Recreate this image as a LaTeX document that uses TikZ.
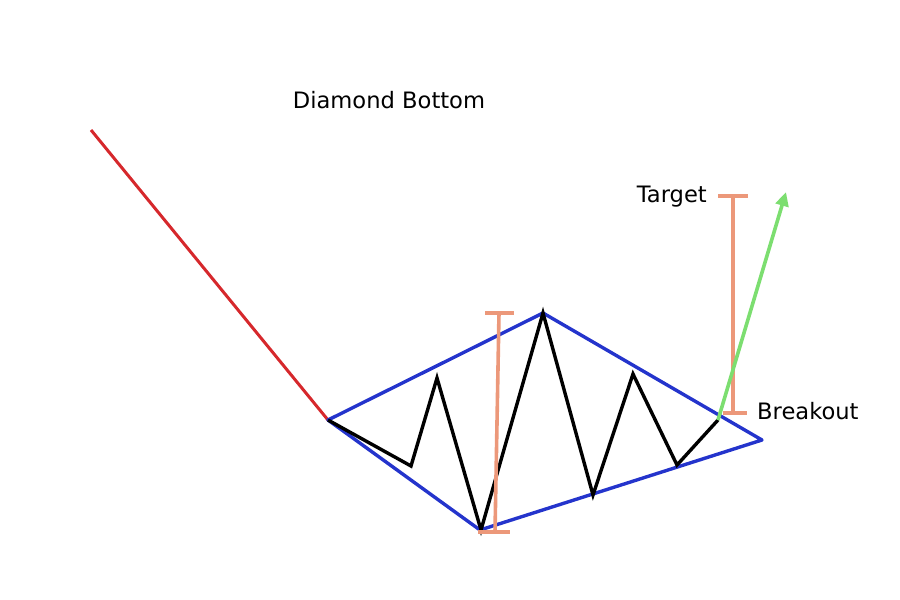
\documentclass[tikz,border=0pt]{standalone}
\usepackage{fontspec}
\setmainfont{DejaVu Sans}
\usetikzlibrary{arrows.meta}
\definecolor{dred}{RGB}{214,40,44}
\definecolor{dblue}{RGB}{36,52,204}
\definecolor{dorange}{RGB}{236,152,122}
\definecolor{dgreen}{RGB}{124,222,112}
\tikzset{
  lbl/.style={font=\fontsize{22.6}{26}\selectfont, inner sep=0pt},
  redline/.style={dred, line width=3pt},
  blueline/.style={dblue, line width=3.4pt, line join=round},
  blackline/.style={black, line width=3.4pt, line join=miter},
  errbar/.style={dorange, line width=3.6pt},
  greenarrow/.style={dgreen, line width=3.6pt, -{Triangle[length=14pt,width=13pt]}}
}
\begin{document}
\begin{tikzpicture}[x=1pt,y=-1pt]
\useasboundingbox (0,0) rectangle (900,600);
% coordinates
\coordinate (start) at (91,130);
\coordinate (L) at (328,420);
\coordinate (T) at (543,313);
\coordinate (R) at (762,440);
\coordinate (B) at (480,530);
\coordinate (z1) at (411,466);
\coordinate (z2) at (437,378);
\coordinate (z3) at (481,530);
\coordinate (z4) at (593,495);
\coordinate (z5) at (633,374);
\coordinate (z6) at (677,465);
\coordinate (brk) at (718,420);
\coordinate (tip) at (786,192);
% red downtrend
\draw[redline] (start) -- (L);
% diamond
\draw[blueline] (L) -- (T) -- (R) -- (B) -- cycle;
% zigzag
\draw[blackline] (L) -- (z1) -- (z2) -- (z3) -- (T) -- (z4) -- (z5) -- (z6) -- (brk);
% left error bar
\coordinate (e1t) at (499,313);
\coordinate (e1b) at (495,532);
\draw[errbar] (e1t) -- (e1b);
\draw[errbar] ([xshift=-14pt]e1t) -- ([xshift=15pt]e1t);
\draw[errbar] ([xshift=-17pt]e1b) -- ([xshift=15pt]e1b);
% right error bar
\coordinate (e2t) at (733,196);
\coordinate (e2b) at (733,413);
\draw[errbar] (e2t) -- (e2b);
\draw[errbar] ([xshift=-15pt]e2t) -- ([xshift=15pt]e2t);
\draw[errbar] ([xshift=-10pt]e2b) -- ([xshift=14pt]e2b);
% green arrow
\draw[greenarrow] (brk) -- (tip);
% labels
\node[lbl] (title) at (389,100) {Diamond Bottom};
\node[lbl, anchor=east] (target) at (707,197) {Target};
\node[lbl, anchor=west] (breakout) at (757,411) {Breakout};
\end{tikzpicture}
\end{document}
